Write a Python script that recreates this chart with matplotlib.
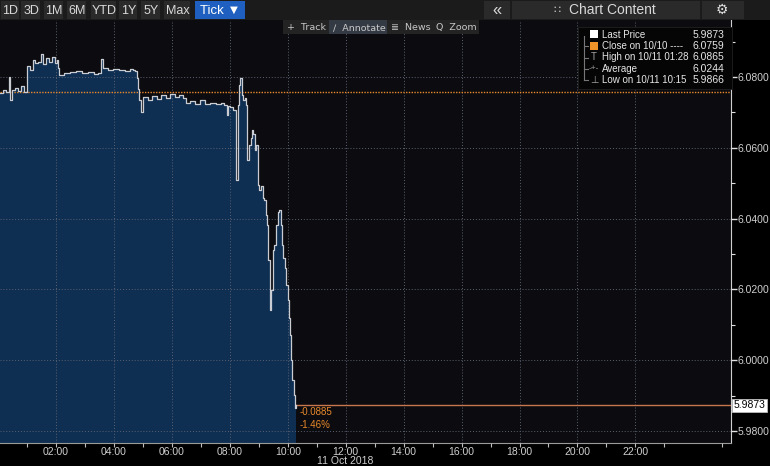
import matplotlib.pyplot as plt
import matplotlib.patches as mpatches
import pandas as pd

plt.rcParams['font.family'] = ['Liberation Sans', 'DejaVu Sans']

# tick prices for 11 Oct 2018 (time, price)
times = ["00:04", "00:10", "00:16", "00:23", "00:25", "00:29", "00:35", "00:41", "00:47", "00:54",
         "01:00", "01:06", "01:12", "01:16", "01:22", "01:28", "01:33", "01:39", "01:45", "01:52",
         "01:58", "02:02", "02:04", "02:06", "02:16", "02:29", "02:41", "02:54", "03:06", "03:19",
         "03:27", "03:33", "03:37", "03:48", "03:58", "04:10", "04:23", "04:33", "04:39", "04:44",
         "04:48", "04:50", "04:52", "04:56", "05:00", "05:10", "05:19", "05:29", "05:37", "05:48",
         "05:56", "06:06", "06:15", "06:23", "06:29", "06:37", "06:48", "06:58", "07:08", "07:19",
         "07:31", "07:42", "07:48", "07:54", "07:56", "08:00", "08:06", "08:13", "08:16", "08:19",
         "08:22", "08:25", "08:27", "08:31", "08:33", "08:36", "08:40", "08:43", "08:46", "08:49",
         "08:52", "08:55", "08:58", "09:01", "09:04", "09:08", "09:11", "09:14", "09:17", "09:20",
         "09:23", "09:26", "09:29", "09:32", "09:35", "09:39", "09:42", "09:45", "09:48", "09:51",
         "09:54", "09:57", "10:00", "10:02", "10:04", "10:07", "10:09", "10:13", "10:15", "10:16"]
prices = [6.0755, 6.0763, 6.0758, 6.0800, 6.0735, 6.0763, 6.0769, 6.0760, 6.0775, 6.0758,
          6.0831, 6.0820, 6.0848, 6.0840, 6.0842, 6.0865, 6.0837, 6.0854, 6.0842, 6.0856,
          6.0840, 6.0848, 6.0825, 6.0806, 6.0811, 6.0814, 6.0817, 6.0811, 6.0814, 6.0808,
          6.0811, 6.0851, 6.0825, 6.0820, 6.0823, 6.0820, 6.0817, 6.0823, 6.0820, 6.0817,
          6.0797, 6.0766, 6.0735, 6.0701, 6.0744, 6.0735, 6.0746, 6.0738, 6.0749, 6.0741,
          6.0752, 6.0744, 6.0749, 6.0741, 6.0727, 6.0732, 6.0724, 6.0735, 6.0724, 6.0727,
          6.0724, 6.0727, 6.0721, 6.0693, 6.0718, 6.0715, 6.0707, 6.0509, 6.0721, 6.0777,
          6.0797, 6.0749, 6.0735, 6.0741, 6.0721, 6.0566, 6.0608, 6.0628, 6.0650, 6.0639,
          6.0594, 6.0608, 6.0495, 6.0481, 6.0492, 6.0458, 6.0453, 6.0410, 6.0382, 6.0283,
          6.0142, 6.0198, 6.0311, 6.0325, 6.0382, 6.0419, 6.0424, 6.0382, 6.0325, 6.0289,
          6.0260, 6.0212, 6.0169, 6.0119, 6.0071, 6.0001, 5.9944, 5.9902, 5.9866, 5.9873]

close_prev = 6.0759
last_price = 5.9873
change_abs = "-0.0885"
change_pct = "-1.46%"
legend_rows = [("Last Price", "5.9873"),
               ("Close on 10/10 ----", "6.0759"),
               ("High on 10/11 01:28", "6.0865"),
               ("Average", "6.0244"),
               ("Low on 10/11 10:15", "5.9866")]
y_ticks = [5.98, 6.00, 6.02, 6.04, 6.06, 6.08]
x_ticks = [2, 4, 6, 8, 10, 12, 14, 16, 18, 20, 22]
range_buttons = ["1D", "3D", "1M", "6M", "YTD", "1Y", "5Y", "Max"]

ts = pd.to_datetime(["2018-10-11 " + t for t in times])
hours = (ts - pd.Timestamp("2018-10-11")) / pd.Timedelta(hours=1)

W, H = 770, 466
fig = plt.figure(figsize=(W / 100, H / 100), dpi=100)
fig.patch.set_facecolor("#000000")

ax = fig.add_axes([0, 23.3 / H, 731 / W, (442.7 - 20) / H])
ax.set_facecolor("#0c0c10")
ax.set_xlim(0.066, 25.3)
ax.set_ylim(5.9767, 6.0961)

ax.fill_between(hours, prices, 5.9, step="post", color="#0f2f52", lw=0, zorder=1)
ax.plot(hours, prices, drawstyle="steps-post", color="#c9ccd2", lw=0.9, zorder=4)

ax.axhline(close_prev, color="#e8892a", lw=1.0, ls=(0, (1, 1)), zorder=3)
ax.plot([hours[-1], 25.3], [last_price, last_price], color="#c8764e", lw=1.0, zorder=3)

ax.set_yticks(y_ticks)
ax.set_yticklabels([f"{v:.4f}" for v in y_ticks])
ax.set_yticks([5.99, 6.01, 6.03, 6.05, 6.07, 6.09], minor=True)
ax.set_xticks(x_ticks)
ax.set_xticklabels([f"{h:02d}:00" for h in x_ticks])
ax.set_xticks([1, 3, 5, 7, 9, 11, 13, 15, 17, 19, 21, 23, 25], minor=True)
ax.yaxis.tick_right()
ax.tick_params(axis="y", which="major", colors="#e0e0e0", labelcolor="#cfcfcf",
               labelsize=7.5, length=4, width=1, pad=1)
ax.tick_params(axis="y", which="minor", colors="#e0e0e0", length=3, width=0.8)
ax.tick_params(axis="x", which="both", colors="#bdbdbd", labelcolor="#cfcfcf",
               labelsize=7.5, length=3, width=0.8, pad=0)
ax.grid(True, which="major", color="#5a6070", lw=0.7, ls=(0, (1, 2)))
ax.set_axisbelow(False)
for s in ["top", "left"]:
    ax.spines[s].set_visible(False)
ax.spines["right"].set_color("#d0d0d0")
ax.spines["bottom"].set_color("#9a9a9a")

ax.text(hours[-1] + 0.15, last_price - 0.0006, change_abs, color="#e8892a",
        fontsize=7, va="top", ha="left", zorder=6)
ax.text(hours[-1] + 0.15, last_price - 0.0041, change_pct, color="#e8892a",
        fontsize=7, va="top", ha="left", zorder=6)
ax.text(1.004, last_price, f"{last_price:.4f}", transform=ax.get_yaxis_transform(),
        ha="left", va="center", color="#000000", fontsize=7.5,
        bbox=dict(boxstyle="square,pad=0.15", fc="white", ec="#bbbbbb", lw=0.6), zorder=8)

# overlay in pixel coordinates for the terminal chrome
ov = fig.add_axes([0, 0, 1, 1], zorder=10)
ov.set_xlim(0, W)
ov.set_ylim(H, 0)
ov.axis("off")

ov.text(345, 461.5, "11 Oct 2018", ha="center", va="center", color="#cfcfcf", fontsize=7.5)

ov.add_patch(mpatches.Rectangle((0, 0), W, 20, fc="#1b1b1b", ec="none"))
bx = [3, 23, 46, 69, 93, 121, 143, 166]
bw = [17, 18, 18, 18, 24, 17, 18, 25]
for label, x0, w in zip(range_buttons, bx, bw):
    ov.add_patch(mpatches.Rectangle((x0 - 2, 1), w + 1, 18, fc="#2a2a2a", ec="none"))
    ov.text(x0 + w / 2 - 1, 10.5, label, ha="center", va="center", color="#d9d9d9", fontsize=9)
ov.add_patch(mpatches.Rectangle((195, 1), 50, 18, fc="#1e5fbf", ec="none"))
ov.text(220, 10.5, "Tick \u25BC", ha="center", va="center", color="white", fontsize=9.5)

ov.add_patch(mpatches.Rectangle((484, 1), 26, 18, fc="#2a2a2a", ec="none"))
ov.text(497, 10, "\u00AB", ha="center", va="center", color="#d9d9d9", fontsize=12)
ov.add_patch(mpatches.Rectangle((512, 1), 188, 18, fc="#2a2a2a", ec="none"))
ov.text(612, 10.5, "Chart Content", ha="center", va="center", color="#d9d9d9", fontsize=10)
ov.text(557, 10.5, "\u2237", ha="center", va="center", color="#d9d9d9", fontsize=8, family="DejaVu Sans")
ov.add_patch(mpatches.Rectangle((702, 1), 42, 18, fc="#2a2a2a", ec="none"))
ov.text(722, 10, "\u2699", ha="center", va="center", color="#e0e0e0", fontsize=10, family="DejaVu Sans")

ov.add_patch(mpatches.Rectangle((283, 20), 196, 14, fc="#232323", ec="none"))
ov.add_patch(mpatches.Rectangle((329, 20), 58, 14, fc="#343a44", ec="none"))
for x0, txt in [(287, "+  Track"), (333, "\u2215  Annotate"), (391, "\u2263  News"), (436, "Q  Zoom")]:
    ov.text(x0, 27.5, txt, ha="left", va="center", color="#c8c8c8", fontsize=6.8, family=["DejaVu Sans"])

# legend box
ov.add_patch(mpatches.Rectangle((578, 27), 154, 62, fc="#050505", ec="#202020", lw=0.6))
rows_y = [34.5, 46, 57.5, 68.5, 80]
ov.plot([584, 584], [36, 80], color="#777777", lw=0.8)
for yy in rows_y[1:]:
    ov.plot([584, 588], [yy, yy], color="#777777", lw=0.8)
ov.add_patch(mpatches.Rectangle((590, 30), 8, 8, fc="white", ec="none"))
ov.add_patch(mpatches.Rectangle((590, 42), 8, 8, fc="#f0922a", ec="none"))
ov.text(594, rows_y[2], "T", ha="center", va="center", color="#a0a0a0", fontsize=7)
ov.text(594, rows_y[3], "-+-", ha="center", va="center", color="#a0a0a0", fontsize=6)
ov.text(594, rows_y[4], "\u22A5", ha="center", va="center", color="#a0a0a0", fontsize=7, family="DejaVu Sans")
for (lab, val), yy in zip(legend_rows, rows_y):
    ov.text(602, yy, lab, ha="left", va="center", color="#e6e6e6", fontsize=7)
    ov.text(724, yy, val, ha="right", va="center", color="#e6e6e6", fontsize=7.5)

fig.savefig("out.png", dpi=100, facecolor=fig.get_facecolor())
